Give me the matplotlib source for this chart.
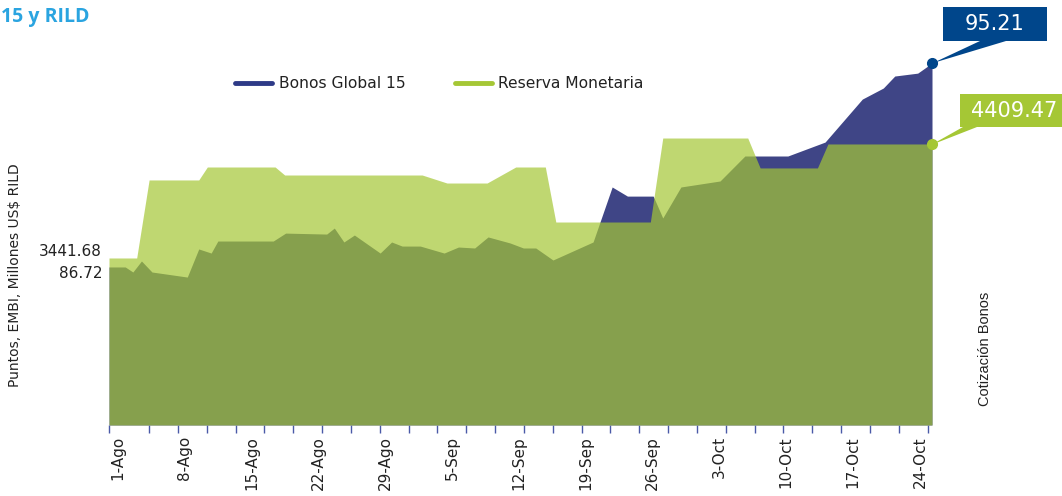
import numpy as np
import matplotlib
matplotlib.use('Agg')
import matplotlib.pyplot as plt
from matplotlib.patches import Rectangle, Polygon

# data (x = days since 1-Ago)
bonos_dias = [0, 1.7, 2.5, 3.4, 4.5, 8.2, 9.4, 10.7, 11.4, 17.2, 18.5, 22.8, 23.6, 24.6,
              25.7, 28.4, 29.6, 30.7, 32.6, 35.1, 36.6, 38.3, 39.7, 42.0, 43.4, 44.7,
              46.5, 50.7, 52.7, 54.3, 57.0, 58.0, 59.9, 64.0, 66.6, 71.1, 75.0, 78.9,
              81.1, 82.3, 84.7, 86.2]
bonos_vals = [86.72, 86.72, 86.51, 86.97, 86.51, 86.30, 87.47, 87.30, 87.80, 87.80, 88.13,
              88.09, 88.34, 87.76, 88.05, 87.30, 87.76, 87.59, 87.59, 87.30, 87.55, 87.51,
              87.97, 87.72, 87.51, 87.51, 87.01, 87.76, 90.05, 89.67, 89.67, 88.76, 90.05,
              90.30, 91.34, 91.34, 91.92, 93.71, 94.17, 94.67, 94.79, 95.21]

reserva_dias = [0, 2.9, 4.2, 9.4, 10.3, 17.4, 18.4, 32.8, 35.4, 39.6, 42.6, 45.7, 46.8,
                56.7, 58.0, 66.9, 68.2, 74.2, 75.3, 86.2]
reserva_vals = [3441.68, 3441.68, 4104, 4104, 4214, 4214, 4146, 4146, 4078, 4078, 4214,
                4214, 3747, 3747, 4460, 4460, 4206, 4206, 4409.47, 4409.47]

etiquetas = ['1-Ago', '8-Ago', '15-Ago', '22-Ago', '29-Ago', '5-Sep', '12-Sep',
             '19-Sep', '26-Sep', '3-Oct', '10-Oct', '17-Oct', '24-Oct']

navy = '#3f4586'
navy_box = '#00468b'
green = '#a5c735'
titulo_color = '#2aa4e0'

fig = plt.figure(figsize=(10.62, 4.96), dpi=100)

# main axes (bonos) and twin (reserva, semi-transparent on top)
ax = fig.add_axes([109 / 1062, 71 / 496, 823 / 1062, 385 / 496])
ax2 = ax.twinx()

b_min, b_max = 80.14, 96.17
r_min, r_max = 2024, 5292
ax.fill_between(bonos_dias, b_min, bonos_vals, color=navy, lw=0)
ax2.fill_between(reserva_dias, r_min, reserva_vals, color=green, alpha=0.7, lw=0)

ax.set_ylim(b_min, b_max)
ax2.set_ylim(r_min, r_max)
ax.set_xlim(0, 86.2)

ax.plot(bonos_dias[-1], bonos_vals[-1], 'o', color=navy_box, ms=7, clip_on=False, zorder=5)
ax2.plot(reserva_dias[-1], reserva_vals[-1], 'o', color=green, ms=7, clip_on=False, zorder=5)

for a in (ax, ax2):
    for s in a.spines.values():
        s.set_visible(False)
    a.set_yticks([])

# date labels every 7 days, tick marks every 3 days
ax.set_xticks([0.94 + 7 * k for k in range(len(etiquetas))])
ax.set_xticklabels(etiquetas, rotation=90, fontsize=11, color='#222222')
ax.tick_params(axis='x', which='major', length=0, pad=8)
ax.set_xticks(np.r_[0, 4.2 + 3.02 * np.arange(28)], minor=True)
ax.tick_params(axis='x', which='minor', length=6, width=1, color='#4a5aa8')

# overlay in pixel coordinates for titles, callouts and labels
ov = fig.add_axes([0, 0, 1, 1], zorder=10)
ov.set_xlim(0, 1062)
ov.set_ylim(496, 0)
ov.axis('off')
ov.patch.set_visible(False)

ov.text(1, 22, '15 y RILD', ha='left', va='baseline', fontsize=14,
        fontweight='bold', color=titulo_color, family='Open Sans')

# legend
ov.plot([235, 272], [83, 83], color='#2e3a87', lw=3.5, solid_capstyle='round')
ov.text(279, 83, 'Bonos Global 15', va='center', fontsize=11.2, color='#222222')
ov.plot([455, 492], [83, 83], color=green, lw=3.5, solid_capstyle='round')
ov.text(498, 83, 'Reserva Monetaria', va='center', fontsize=11.2, color='#222222')

# first values on the left
ov.text(102, 252, f'{reserva_vals[0]:.2f}', ha='right', va='center', fontsize=11, color='#222222')
ov.text(102, 273, f'{bonos_vals[0]:.2f}', ha='right', va='center', fontsize=11, color='#222222')

# callouts for last values
ov.add_patch(Polygon([(933, 63), (980, 41), (1006, 41)], color=navy_box, lw=0))
ov.add_patch(Rectangle((943, 7), 104, 34, color=navy_box, lw=0))
ov.text(995, 24, f'{bonos_vals[-1]:.2f}', ha='center', va='center', fontsize=15, color='white')

ov.add_patch(Polygon([(931, 145), (963, 127), (977, 127)], color=green, lw=0))
ov.add_patch(Rectangle((960, 94), 110, 33, color=green, lw=0))
ov.text(1014, 111, f'{reserva_vals[-1]:.2f}', ha='center', va='center', fontsize=15, color='white')

# axis titles
ov.text(15, 275, 'Puntos, EMBI, Millones US$ RILD', rotation=90, ha='center', va='center',
        fontsize=10, color='#222222')
ov.text(985, 349, 'Cotización Bonos', rotation=90, ha='center', va='center',
        fontsize=10.5, color='#222222', family='Liberation Sans')

fig.savefig('out.png', dpi=100)
